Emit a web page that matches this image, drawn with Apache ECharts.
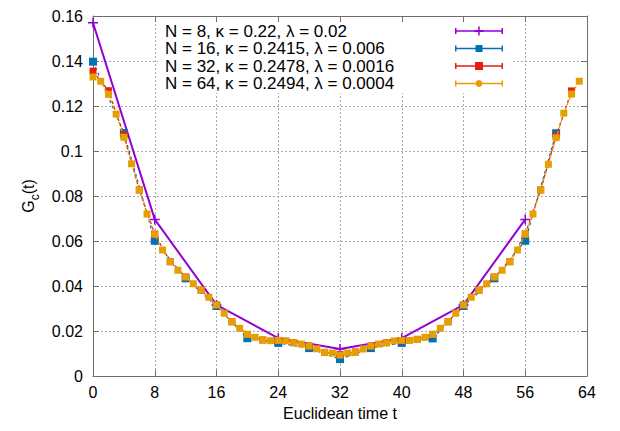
<!DOCTYPE html>
<html><head><meta charset="utf-8">
<script src="https://cdn.jsdelivr.net/npm/echarts@6/dist/echarts.min.js"></script>
<style>html,body{margin:0;padding:0;background:#fff}#c{width:620px;height:431px}</style>
</head><body><div id="c"></div>
<script>
const seriesNames = [
  'N = 8, κ = 0.22, λ = 0.02',
  'N = 16, κ = 0.2415, λ = 0.006',
  'N = 32, κ = 0.2478, λ = 0.0016',
  'N = 64, κ = 0.2494, λ = 0.0004'
];
const seriesColors = ['#9400d3', '#0072b2', '#e51e10', '#e69f00'];
const t8 = [0, 8, 16, 24, 32, 40, 48, 56];
const g8 = [0.1570, 0.0696, 0.0316, 0.0168, 0.0120, 0.0168, 0.0316, 0.0696];
const t16 = [0, 4, 8, 12, 16, 20, 24, 28, 32, 36, 40, 44, 48, 52, 56, 60];
const g16 = [0.1397, 0.1080, 0.0601, 0.0434, 0.0311, 0.0168, 0.0147, 0.0124, 0.0075, 0.0124, 0.0147, 0.0167, 0.0311, 0.0434, 0.0601, 0.1079];
const t32 = [0, 2, 4, 6, 8, 10, 12, 14, 16, 18, 20, 22, 24, 26, 28, 30, 32, 34, 36, 38, 40, 42, 44, 46, 48, 50, 52, 54, 56, 58, 60, 62];
const g32 = [0.1355, 0.1268, 0.1071, 0.0827, 0.0631, 0.0508, 0.0440, 0.0382, 0.0316, 0.0241, 0.0185, 0.0160, 0.0157, 0.0148, 0.0133, 0.0105, 0.0096, 0.0107, 0.0133, 0.0148, 0.0157, 0.0163, 0.0185, 0.0241, 0.0316, 0.0382, 0.0440, 0.0508, 0.0631, 0.0827, 0.1068, 0.1267];
const t64 = [0, 1, 2, 3, 4, 5, 6, 7, 8, 9, 10, 11, 12, 13, 14, 15, 16, 17, 18, 19, 20, 21, 22, 23, 24, 25, 26, 27, 28, 29, 30, 31, 32, 33, 34, 35, 36, 37, 38, 39, 40, 41, 42, 43, 44, 45, 46, 47, 48, 49, 50, 51, 52, 53, 54, 55, 56, 57, 58, 59, 60, 61, 62, 63];
const g64 = [0.1329, 0.1310, 0.1252, 0.1164, 0.1061, 0.0943, 0.0827, 0.0720, 0.0630, 0.0560, 0.0508, 0.0470, 0.0440, 0.0410, 0.0382, 0.0350, 0.0316, 0.0279, 0.0241, 0.0212, 0.0185, 0.0172, 0.0161, 0.0157, 0.0158, 0.0157, 0.0148, 0.0142, 0.0133, 0.0121, 0.0105, 0.0102, 0.0093, 0.0102, 0.0106, 0.0120, 0.0133, 0.0142, 0.0148, 0.0156, 0.0158, 0.0158, 0.0162, 0.0172, 0.0185, 0.0212, 0.0241, 0.0279, 0.0316, 0.0350, 0.0382, 0.0410, 0.0440, 0.0470, 0.0508, 0.0560, 0.0630, 0.0720, 0.0827, 0.0941, 0.1059, 0.1168, 0.1253, 0.1310];
const xTitle = 'Euclidean time t';
const yTitleMain = 'G', yTitleSub = 'c', yTitleTail = '(t)';

const FONT = '"Liberation Sans", Arial, Helvetica, sans-serif';
const capsLine = 'M0 0Z M48 10Z M0 2H1.5V8H0Z M46.5 2H48V8H46.5Z M0 4.3H48V5.7H0Z ';
const legendIcons = [
  'path://' + capsLine + 'M23.25 0.5H24.75V9.5H23.25Z M19.5 4H28.5V6H19.5Z',
  'path://' + capsLine + 'M20.5 1.5H27.5V8.5H20.5Z',
  'path://' + capsLine + 'M20 1H28V9H20Z',
  'path://' + capsLine + 'M24 1.5A3.5 3.5 0 1 1 23.99 1.5Z'
];
const symbols = ['path://M4.25 0H5.75V10H4.25Z M0 4.25H10V5.75H0Z', 'rect', 'rect', 'rect'];
const symbolSizes = [10, 8, 7, 7];
const xs = [t8, t16, t32, t64];
const ys = [g8, g16, g32, g64];
const rowTops = [22, 39.5, 57, 74.5];

const chart = echarts.init(document.getElementById('c'), null, {renderer: 'svg'});

const series = seriesNames.map((name, i) => ({
  name: name,
  type: 'line',
  data: xs[i].map((t, k) => [t, ys[i][k]]),
  symbol: symbols[i],
  symbolSize: symbolSizes[i],
  showSymbol: true,
  color: seriesColors[i],
  itemStyle: {color: seriesColors[i]},
  lineStyle: i === 0 ? {width: 2, color: seriesColors[i]} : {width: 1.3, type: [3, 3], color: seriesColors[i]},
  z: 2 + i,
  animation: false
}));

const legends = seriesNames.map((name, i) => ({
  data: [{name: name, icon: legendIcons[i]}],
  left: 165,
  top: rowTops[i],
  padding: 0,
  align: 'right',
  itemWidth: 48,
  itemHeight: 10,
  itemStyle: {borderWidth: 0},
  formatter: n => '{t|' + n + '}',
  textStyle: {
    width: 285, fontFamily: FONT, fontSize: 17, color: '#000', lineHeight: 18,
    rich: {t: {align: 'left', fontFamily: FONT, fontSize: 17, color: '#000', lineHeight: 18}}
  },
  selectedMode: false
}));

const axisLineStyle = {color: '#6e6e6e', width: 1};
chart.setOption({
  animation: false,
  backgroundColor: '#fff',
  grid: {left: 93, right: 33, top: 16, bottom: 55},
  legend: legends,
  graphic: [{type: 'rect', shape: {x: 158, y: 22.5, width: 355, height: 70.5}, style: {fill: '#fff'}, z: 1, silent: true}],
  xAxis: [{
    type: 'value', min: 0, max: 64, interval: 8, position: 'bottom',
    name: xTitle, nameLocation: 'middle', nameGap: 29,
    nameTextStyle: {fontFamily: FONT, fontSize: 16, color: '#000'},
    axisLine: {show: true, onZero: false, lineStyle: axisLineStyle},
    axisTick: {show: true, inside: true, length: 6, lineStyle: axisLineStyle},
    axisLabel: {fontFamily: FONT, fontSize: 16, color: '#000', margin: 8},
    splitLine: {show: true, lineStyle: {color: '#a8a8a8', type: [2, 2], width: 1}}
  }, {
    type: 'value', min: 0, max: 64, interval: 8, position: 'top',
    axisLine: {show: true, onZero: false, lineStyle: axisLineStyle},
    axisTick: {show: true, inside: true, length: 6, lineStyle: axisLineStyle},
    axisLabel: {show: false}, splitLine: {show: false}
  }],
  yAxis: [{
    type: 'value', min: 0, max: 0.16, interval: 0.02, position: 'left',
    name: '{a|' + yTitleMain + '}{b|' + yTitleSub + '}{a|' + yTitleTail + '}',
    nameLocation: 'middle', nameGap: 50, nameRotate: 90,
    nameTextStyle: {
      fontFamily: FONT, fontSize: 16, color: '#000',
      rich: {
        a: {fontFamily: FONT, fontSize: 16, color: '#000', lineHeight: 24, verticalAlign: 'middle'},
        b: {fontFamily: FONT, fontSize: 12, color: '#000', lineHeight: 13, verticalAlign: 'bottom'}
      }
    },
    axisLine: {show: true, onZero: false, lineStyle: axisLineStyle},
    axisTick: {show: true, inside: true, length: 6, lineStyle: axisLineStyle},
    axisLabel: {fontFamily: FONT, fontSize: 16, color: '#000', margin: 10},
    splitLine: {show: true, lineStyle: {color: '#a8a8a8', type: [2, 2], width: 1}}
  }, {
    type: 'value', min: 0, max: 0.16, interval: 0.02, position: 'right',
    axisLine: {show: true, onZero: false, lineStyle: axisLineStyle},
    axisTick: {show: true, inside: true, length: 6, lineStyle: axisLineStyle},
    axisLabel: {show: false}, splitLine: {show: false}
  }],
  series: series
});
</script>
</body></html>
